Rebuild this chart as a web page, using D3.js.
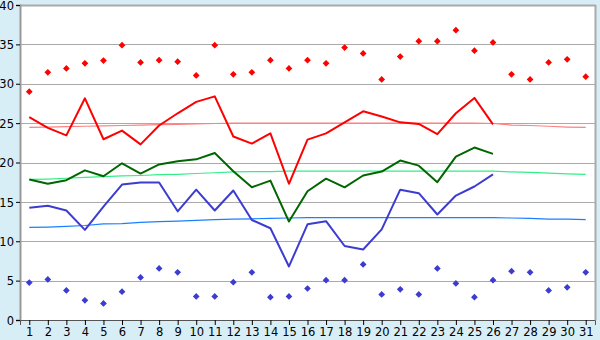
<!DOCTYPE html>
<html>
<head>
<meta charset="utf-8">
<script src="https://cdn.jsdelivr.net/npm/d3@7"></script>
<style>
  body { margin: 0; background: #d8eef6; }
  svg { display: block; }
  .axis text { font-family: "DejaVu Sans", Verdana, sans-serif; font-size: 11.5px; fill: #000; }
</style>
</head>
<body>
<svg id="chart"></svg>
<script>
var chartWidth = 600;
var chartHeight = 340;
var plotLeft = 20;
var plotRight = 595;
var plotTop = 5;
var plotBottom = 320;

// days of the month
var days = d3.range(1, 32);
var yTicks = [0, 5, 10, 15, 20, 25, 30, 35, 40];

// daily max / min readings
var maxTemps = [29.0, 31.45, 31.95, 32.6, 32.95, 34.9, 32.7, 33.0, 32.8, 31.05,
  34.9, 31.2, 31.45, 33.0, 31.95, 33.0, 32.6, 34.6, 33.85, 30.55,
  33.45, 35.4, 35.4, 36.8, 34.2, 35.25, 31.2, 30.55, 32.7, 33.1, 30.9];
var minTemps = [4.75, 5.15, 3.75, 2.5, 2.1, 3.6, 5.4, 6.55, 6.05, 3.0,
  3.0, 4.8, 6.05, 2.9, 3.0, 4.0, 5.05, 5.05, 7.05, 3.25,
  3.9, 3.25, 6.55, 4.65, 2.9, 5.05, 6.2, 6.05, 3.75, 4.15, 6.05];

// averages (only up to day 26)
var avgMax = [25.75, 24.4, 23.45, 28.15, 22.95, 24.05, 22.3, 24.7, 26.25, 27.7,
  28.4, 23.3, 22.4, 23.7, 17.3, 22.9, 23.7, 25.1, 26.5, 25.85,
  25.1, 24.9, 23.6, 26.25, 28.2, 24.85];
var avgMean = [17.85, 17.3, 17.75, 19.0, 18.25, 19.9, 18.6, 19.75, 20.15, 20.4,
  21.2, 18.9, 16.85, 17.7, 12.5, 16.35, 17.95, 16.85, 18.35, 18.85,
  20.25, 19.6, 17.5, 20.75, 21.9, 21.1];
var avgMin = [14.25, 14.5, 13.9, 11.45, 14.4, 17.2, 17.45, 17.45, 13.8, 16.55,
  13.9, 16.45, 12.7, 11.65, 6.8, 12.15, 12.55, 9.4, 8.95, 11.5,
  16.55, 16.1, 13.4, 15.8, 16.95, 18.5];

// normals for the whole month
var normMax = [24.45, 24.5, 24.55, 24.6, 24.65, 24.7, 24.75, 24.8, 24.85, 24.9,
  24.95, 25.0, 25.0, 25.0, 25.0, 25.0, 25.0, 25.0, 25.0, 25.0,
  25.0, 25.0, 25.0, 25.0, 25.0, 24.95, 24.75, 24.7, 24.6, 24.5, 24.45];
var normMean = [17.85, 17.9, 18.0, 18.1, 18.2, 18.3, 18.35, 18.45, 18.5, 18.6,
  18.7, 18.8, 18.85, 18.85, 18.9, 18.9, 18.9, 18.9, 18.9, 18.9,
  18.9, 18.9, 18.9, 18.9, 18.9, 18.9, 18.8, 18.75, 18.65, 18.55, 18.5];
var normMin = [11.75, 11.8, 11.9, 12.0, 12.2, 12.25, 12.4, 12.5, 12.55, 12.65,
  12.75, 12.8, 12.85, 12.9, 12.95, 13.0, 13.0, 13.0, 13.0, 13.0,
  13.0, 13.0, 13.0, 13.0, 13.0, 13.0, 12.95, 12.9, 12.8, 12.8, 12.75];

var svg = d3.select('#chart')
  .attr('width', chartWidth)
  .attr('height', chartHeight);

var x = d3.scalePoint()
  .domain(days)
  .range([plotLeft, plotRight])
  .padding(0.5);

var y = d3.scaleLinear()
  .domain([0, 40])
  .range([plotBottom, plotTop]);

// plot background
svg.append('rect')
  .attr('x', plotLeft)
  .attr('y', plotTop)
  .attr('width', plotRight - plotLeft)
  .attr('height', plotBottom - plotTop)
  .attr('fill', '#fff');

// grid
svg.append('g')
  .selectAll('line')
  .data(yTicks.slice(1))
  .enter().append('line')
    .attr('x1', plotLeft)
    .attr('x2', plotRight)
    .attr('y1', function(d) { return Math.round(y(d)) + 0.5; })
    .attr('y2', function(d) { return Math.round(y(d)) + 0.5; })
    .attr('stroke', '#aaa')
    .attr('stroke-width', 1);

// top + right border
svg.append('line')
  .attr('x1', plotLeft).attr('x2', plotRight + 1)
  .attr('y1', plotTop + 0.5).attr('y2', plotTop + 0.5)
  .attr('stroke', '#aaa').attr('stroke-width', 2);
svg.append('line')
  .attr('x1', plotRight + 0.5).attr('x2', plotRight + 0.5)
  .attr('y1', plotTop).attr('y2', plotBottom)
  .attr('stroke', '#aaa').attr('stroke-width', 2);

function dayLine(values) {
  return d3.line()
    .x(function(d, i) { return x(days[i]); })
    .y(function(d) { return y(d); })(values);
}

function addLine(values, color, width) {
  svg.append('path')
    .attr('d', dayLine(values))
    .attr('fill', 'none')
    .attr('stroke', color)
    .attr('stroke-width', width)
    .attr('stroke-linejoin', 'round');
}

// normals
addLine(normMax, '#ff8080', 1.2);
addLine(normMean, '#33ee88', 1.2);
addLine(normMin, '#1a80ff', 1.2);

// averages
addLine(avgMax, '#ff0000', 2);
addLine(avgMean, '#006600', 2);
addLine(avgMin, '#3c3cd0', 2);

// daily extremes
var marker = d3.symbol().type(d3.symbolSquare).size(12);

function addPoints(values, color) {
  svg.append('g')
    .selectAll('path')
    .data(values)
    .enter().append('path')
      .attr('d', marker)
      .attr('transform', function(d, i) {
        return 'translate(' + x(days[i]) + ',' + y(d) + ') rotate(45)';
      })
      .attr('fill', color)
      .attr('stroke', color)
      .attr('stroke-width', 1.3);
}

addPoints(maxTemps, '#ff0000');
addPoints(minTemps, '#3c3cd0');

// axes
var yAxis = svg.append('g')
  .attr('class', 'axis')
  .attr('transform', 'translate(' + plotLeft + ',0)')
  .call(d3.axisLeft(y)
    .tickValues(yTicks)
    .tickSize(4)
    .tickPadding(2)
    .tickFormat(d3.format('d')));
yAxis.select('.domain').attr('stroke', '#999').attr('stroke-width', 2);
yAxis.selectAll('.tick text').attr('dy', '0.36em');

var xAxis = svg.append('g')
  .attr('class', 'axis')
  .attr('transform', 'translate(0,' + plotBottom + ')')
  .call(d3.axisBottom(x)
    .tickSize(5)
    .tickPadding(3));
xAxis.select('.domain').attr('stroke', '#555');
</script>
</body>
</html>
